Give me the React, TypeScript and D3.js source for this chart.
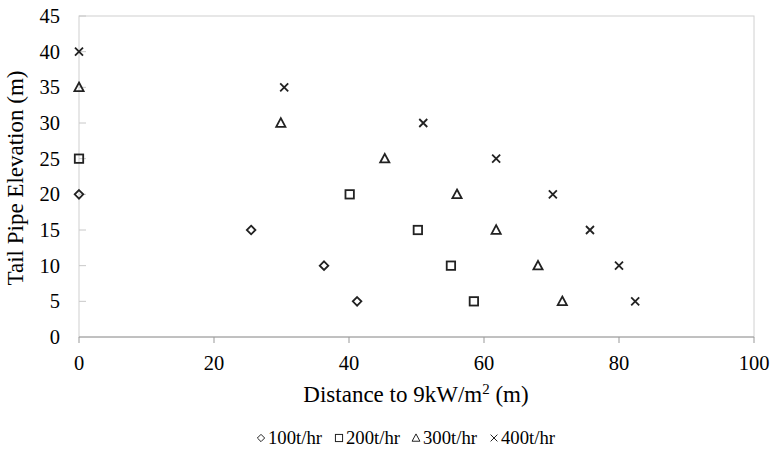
import React from "react";
import * as d3 from "d3";

const elev100 = [20, 15, 10, 5];
const dist100 = [0, 25.5, 36.3, 41.2];
const elev200 = [25, 20, 15, 10, 5];
const dist200 = [0, 40.1, 50.2, 55.1, 58.5];
const elev300 = [35, 30, 25, 20, 15, 10, 5];
const dist300 = [0, 29.9, 45.3, 56.0, 61.8, 68.0, 71.6];
const elev400 = [40, 35, 30, 25, 20, 15, 10, 5];
const dist400 = [0, 30.4, 51.0, 61.8, 70.2, 75.7, 80.0, 82.4];
const xTicks = [0, 20, 40, 60, 80, 100];
const yTicks = [0, 5, 10, 15, 20, 25, 30, 35, 40, 45];
const seriesNames = ["100t/hr", "200t/hr", "300t/hr", "400t/hr"];

const W = 772, H = 451;
const L = 79, R = 754, T = 16, B = 337;
const FONT = "'Liberation Serif', 'Times New Roman', serif";
const INK = "#222";

function Marker({ kind, x, y, sc = 1, w = 1.8 }: { kind: number; x: number; y: number; sc?: number; w?: number }) {
  const common = { fill: "none", stroke: INK, strokeWidth: w };
  const s = 4.3 * sc;
  if (kind === 0) {
    return <path d={`M${x},${y - s}L${x + s},${y}L${x},${y + s}L${x - s},${y}Z`} {...common} />;
  }
  if (kind === 1) {
    const h = 4.2 * sc;
    return <rect x={x - h} y={y - h} width={2 * h} height={2 * h} {...common} />;
  }
  if (kind === 2) {
    return <path d={`M${x},${y - 4.8 * sc}L${x + 4.6 * sc},${y + 3.8 * sc}L${x - 4.6 * sc},${y + 3.8 * sc}Z`} {...common} />;
  }
  const c = 4 * sc;
  return <path d={`M${x - c},${y - c}L${x + c},${y + c}M${x + c},${y - c}L${x - c},${y + c}`} {...common} />;
}

export default function App() {
  const x = d3.scaleLinear().domain([0, 100]).range([L, R]);
  const y = d3.scaleLinear().domain([0, 45]).range([B, T]);
  const series = [
    { d: dist100, e: elev100 },
    { d: dist200, e: elev200 },
    { d: dist300, e: elev300 },
    { d: dist400, e: elev400 },
  ];
  const legendX = [257, 335, 412, 490];
  return (
    <svg width={W} height={H} style={{ display: "block", position: "absolute", left: 0, top: 0 }}>
      <rect width={W} height={H} fill="#fff" />
      <rect x={L} y={T} width={R - L} height={B - T} fill="none" stroke="#d0d0d0" strokeWidth={1} />
      {yTicks.map((t) => (
        <g key={"y" + t}>
          {t > 0 && <line x1={L} x2={L + 7} y1={y(t)} y2={y(t)} stroke="#c8c8c8" />}
          <text x={60} y={y(t) + 7} textAnchor="end" fontFamily={FONT} fontSize={20.5} fill="#000">{t}</text>
        </g>
      ))}
      {xTicks.map((t) => (
        <g key={"x" + t}>
          <line x1={x(t)} x2={x(t)} y1={B} y2={B + 6} stroke="#999" />
          <text x={x(t)} y={370} textAnchor="middle" fontFamily={FONT} fontSize={20.5} fill="#000">{t}</text>
        </g>
      ))}
      <line x1={L} x2={R} y1={B} y2={B} stroke="#999" strokeWidth={1.2} />
      {series.map((s, i) => (
        <g key={"s" + i}>
          {s.d.map((dv, j) => (
            <Marker key={j} kind={i} x={x(dv)} y={y(s.e[j])} />
          ))}
        </g>
      ))}
      <text transform={`translate(23,178) rotate(-90)`} textAnchor="middle" fontFamily={FONT} fontSize={23} fill="#000">Tail Pipe Elevation (m)</text>
      <text x={416} y={402} textAnchor="middle" fontFamily={FONT} fontSize={23} fill="#000">
        Distance to 9kW/m<tspan dy={-8} fontSize={15}>2</tspan><tspan dy={8}> (m)</tspan>
      </text>
      {seriesNames.map((n, i) => (
        <g key={"l" + i}>
          <Marker kind={i} x={legendX[i] + 4} y={438} sc={0.85} w={1} />
          <text x={legendX[i] + 11} y={444} fontFamily={FONT} fontSize={18.7} fill="#000">{n}</text>
        </g>
      ))}
    </svg>
  );
}
